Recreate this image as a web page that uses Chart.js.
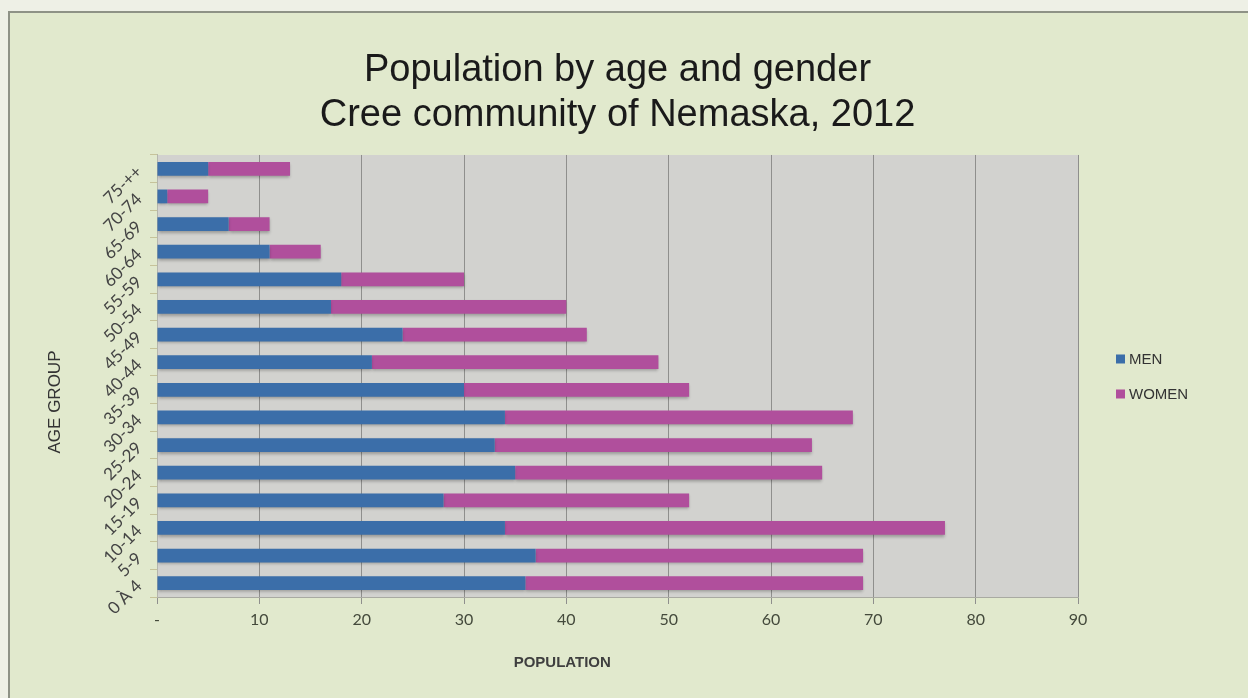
<!DOCTYPE html>
<html>
<head>
<meta charset="utf-8">
<title>Population by age and gender</title>
<script src="https://cdn.jsdelivr.net/npm/chart.js@4.4.0/dist/chart.umd.min.js"></script>
<style>
  html, body { margin: 0; padding: 0; background: #eef0e6; }
  #frame {
    position: absolute; left: 8px; top: 11px; width: 1240px; height: 687px;
    background: #e1e9cd; border-left: 2px solid #8e9286; border-top: 2px solid #8e9286;
  }
  #wrap { position: absolute; left: 0; top: 0; width: 1248px; height: 698px; }
</style>
</head>
<body>
<div id="frame"></div>
<div id="wrap"><canvas id="chart" width="1248" height="698"></canvas></div>
<script>
// age groups, youngest first (y axis is reversed so 0-4 sits at the bottom)
const ageGroups = ["0 À 4", "5-9", "10-14", "15-19", "20-24", "25-29", "30-34", "35-39",
  "40-44", "45-49", "50-54", "55-59", "60-64", "65-69", "70-74", "75-++"];
const men   = [36, 37, 34, 28, 35, 33, 34, 30, 21, 24, 17, 18, 11, 7, 1, 5];
const women = [33, 32, 43, 24, 30, 31, 34, 22, 28, 18, 23, 12, 5, 4, 4, 8];
const titleLines = ["Population by age and gender", "Cree community of Nemaska, 2012"];

const MEN_COLOR = "#3b6ea9";
const WOMEN_COLOR = "#b04f9c";

// grey plot area behind the bars
const plotBackground = {
  id: "plotBackground",
  beforeDraw(chart) {
    const { ctx, chartArea: a } = chart;
    ctx.save();
    ctx.fillStyle = "#d2d2cf";
    ctx.fillRect(a.left, a.top, a.right - a.left, a.bottom - a.top);
    ctx.restore();
  }
};

// soft drop shadow under the bars
const barShadow = {
  id: "barShadow",
  beforeDatasetsDraw(chart) {
    const ctx = chart.ctx;
    ctx.save();
    ctx.shadowColor = "rgba(0,0,0,0.28)";
    ctx.shadowBlur = 3;
    ctx.shadowOffsetY = 2;
  },
  afterDatasetsDraw(chart) {
    chart.ctx.restore();
  }
};

// legend on the right and the two axis titles
const sideText = {
  id: "sideText",
  afterDraw(chart) {
    const { ctx, chartArea: a } = chart;
    ctx.save();
    const midY = (a.top + a.bottom) / 2;
    ctx.font = "15px 'Liberation Sans', Arial, sans-serif";
    ctx.textBaseline = "middle";
    ctx.textAlign = "left";
    chart.data.datasets.forEach((ds, i) => {
      const y = midY - 17 + i * 35;
      ctx.fillStyle = ds.backgroundColor;
      ctx.fillRect(a.right + 38, y - 4.5, 9, 9);
      ctx.fillStyle = "#333";
      ctx.fillText(ds.label, a.right + 51, y + 1);
    });

    ctx.fillStyle = "#3f3f3f";
    ctx.textAlign = "center";
    ctx.font = "bold 15px 'Liberation Sans', Arial, sans-serif";
    ctx.fillText("POPULATION", a.left + (a.right - a.left) * 0.44, 663);

    ctx.translate(55, midY + 26);
    ctx.rotate(-Math.PI / 2);
    ctx.font = "17px 'Liberation Sans', Arial, sans-serif";
    ctx.fillStyle = "#333";
    ctx.fillText("AGE GROUP", 0, 0);
    ctx.restore();
  }
};

new Chart(document.getElementById("chart"), {
  type: "bar",
  data: {
    labels: ageGroups,
    datasets: [
      { label: "MEN", data: men, backgroundColor: MEN_COLOR },
      { label: "WOMEN", data: women, backgroundColor: WOMEN_COLOR }
    ]
  },
  options: {
    indexAxis: "y",
    responsive: false,
    animation: false,
    layout: { padding: { left: 37, right: 170, top: 38, bottom: 61 } },
    datasets: { bar: { barPercentage: 0.5, categoryPercentage: 1 } },
    plugins: {
      legend: { display: false },
      tooltip: { enabled: false },
      title: {
        display: true,
        text: titleLines,
        fullSize: false,
        color: "#1a1a1a",
        font: { family: "'Liberation Sans', Arial, sans-serif", size: 38, weight: "normal", lineHeight: 1.184 },
        padding: { top: 10, bottom: 17 }
      }
    },
    scales: {
      x: {
        stacked: true,
        min: 0,
        max: 90,
        ticks: {
          stepSize: 10,
          color: "#444a3c",
          font: { family: "Lato, 'Liberation Sans', sans-serif", size: 16 },
          padding: 6,
          callback: v => (v === 0 ? "-" : v)
        },
        grid: { color: "#8f8f8d", tickLength: 7 },
        border: { color: "#a9aaa2" },
        afterFit: s => { s.height = 40; }
      },
      y: {
        stacked: true,
        reverse: true,
        ticks: {
          autoSkip: false,
          minRotation: 45,
          maxRotation: 45,
          color: "#444",
          font: { family: "Lato, 'Liberation Sans', sans-serif", size: 17 },
          padding: 11
        },
        grid: { drawOnChartArea: false, offset: true, tickLength: 7, color: "#c6c39a" },
        border: { color: "#b5b6ad" },
        afterFit: s => { s.width = 120; }
      }
    }
  },
  plugins: [plotBackground, barShadow, sideText]
});
</script>
</body>
</html>
